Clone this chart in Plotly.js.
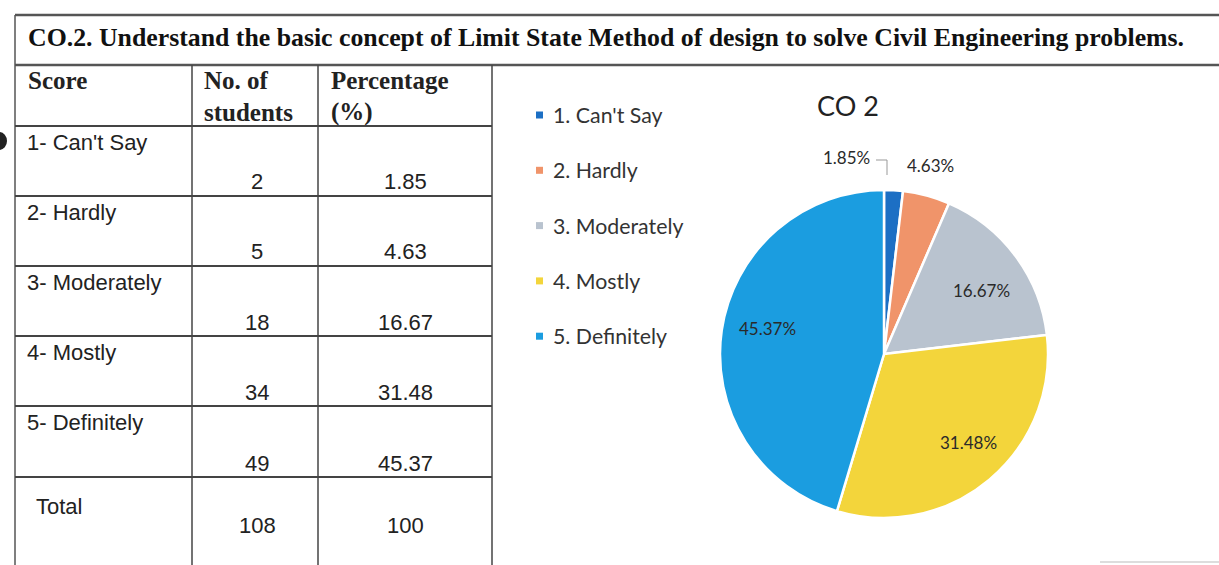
<!DOCTYPE html>
<html>
<head>
<meta charset="utf-8">
<script src="https://cdn.plot.ly/plotly-3.0.1.min.js"></script>
<style>html,body{margin:0;padding:0;background:#fff;}#chart{width:1219px;height:565px;}</style>
</head>
<body>
<div id="chart"></div>
<script>
// ---- data ----
const heading = "CO.2. Understand the basic concept of Limit State Method of design to solve Civil Engineering problems.";
const chartTitle = "CO 2";
const headerCols = [["Score"], ["No. of", "students"], ["Percentage", "(%)"]];
const scoreLabels = ["1- Can't Say", "2- Hardly", "3- Moderately", "4- Mostly", "5- Definitely"];
const legendLabels = ["1. Can't Say", "2. Hardly", "3. Moderately", "4. Mostly", "5. Definitely"];
const students = [2, 5, 18, 34, 49];
const percents = [1.85, 4.63, 16.67, 31.48, 45.37];
const totalLabel = "Total";
const totalStudents = 108;
const totalPercent = 100;
const sliceColors = ["#1c6fc4", "#f0946a", "#b9c3cf", "#f3d53b", "#1b9de0"];

// ---- geometry helpers (pixel -> paper) ----
const W = 1219, H = 565;
const px = x => x / W;
const py = y => 1 - y / H;

const shapes = [];
const annotations = [];
function hline(x0, x1, y, w, c) {
  shapes.push({type: 'line', xref: 'paper', yref: 'paper', x0: px(x0), x1: px(x1), y0: py(y), y1: py(y),
    line: {color: c || '#444', width: w || 1.5}});
}
function vline(x, y0, y1, w, c) {
  shapes.push({type: 'line', xref: 'paper', yref: 'paper', x0: px(x), x1: px(x), y0: py(y0), y1: py(y1),
    line: {color: c || '#444', width: w || 1.5}});
}
function txt(text, x, y, opts) {
  annotations.push(Object.assign({xref: 'paper', yref: 'paper', x: px(x), y: py(y), text: text,
    showarrow: false, xanchor: 'left', yanchor: 'middle', align: 'left',
    font: {family: 'Liberation Sans, Arial', size: 22, color: '#222'}}, opts || {}));
}

// outer frame
hline(15, 1219, 15, 2.5, '#555');
hline(15, 1219, 65, 2.5, '#555');
vline(15, 15, 565, 1.5, '#555');
// table grid
const colX = [15, 192, 318, 492];
const rowY = [65, 126, 196, 266, 336, 406, 477, 565];
for (let i = 1; i < colX.length; i++) vline(colX[i], 65, 565, 1.5, '#444');
for (let j = 1; j < rowY.length - 1; j++) hline(15, 492, rowY[j], 2, '#444');
hline(1100, 1219, 562, 1, '#bbb');
// binder hole mark
shapes.push({type: 'circle', xref: 'paper', yref: 'paper', x0: px(-8), x1: px(7), y0: py(132), y1: py(150),
  fillcolor: '#222', line: {width: 0}});

// heading
txt('<b>' + heading + '</b>', 26, 37, {font: {family: 'Liberation Serif, Times New Roman', size: 25.8, color: '#111'}});

// header row
const serifB = {family: 'Liberation Serif, Times New Roman', size: 25, color: '#222'};
const headX = [26, 202, 329];
for (let c = 0; c < headerCols.length; c++) {
  headerCols[c].forEach((line, k) => txt('<b>' + line + '</b>', headX[c], 80 + k * 32, {font: serifB}));
}

// data rows
const c2 = (colX[1] + colX[2]) / 2 + 2, c3 = (colX[2] + colX[3]) / 2;
for (let i = 0; i < scoreLabels.length; i++) {
  const top = rowY[i + 1], bot = rowY[i + 2];
  txt(scoreLabels[i], 25, top + 16);
  txt(String(students[i]), c2, bot - 14, {xanchor: 'center'});
  txt(percents[i].toFixed(2), c3, bot - 14, {xanchor: 'center'});
}
txt(totalLabel, 34, 506);
txt(String(totalStudents), c2, 525, {xanchor: 'center'});
txt(String(totalPercent), c3, 525, {xanchor: 'center'});

// custom legend
const legY0 = 115, legGap = 55.3;
const legFont = {family: 'Lato, Open Sans, sans-serif', size: 21.3, color: '#333'};
for (let i = 0; i < legendLabels.length; i++) {
  const y = legY0 + i * legGap;
  shapes.push({type: 'rect', xref: 'paper', yref: 'paper', x0: px(536), x1: px(543), y0: py(y + 3.5), y1: py(y - 3.5),
    fillcolor: sliceColors[i], line: {width: 0}});
  txt(legendLabels[i], 551, y, {font: legFont});
}

// slice data labels (positions are layout only; text from data)
const labelPos = [[846, 157], [930, 166], [982, 290], [968, 442], [767, 328]];
const lblFont = {family: 'Lato, Open Sans, sans-serif', size: 17, color: '#2a2a2a'};
percents.forEach((p, i) => txt(p.toFixed(2) + '%', labelPos[i][0], labelPos[i][1], {xanchor: 'center', font: lblFont}));
// leader for the smallest slice
shapes.push({type: 'path', xref: 'paper', yref: 'paper',
  path: `M ${px(876)} ${py(160)} L ${px(887)} ${py(160)} L ${px(887)} ${py(175)}`,
  line: {color: '#999', width: 1}});

const trace = {
  type: 'pie',
  values: students,
  labels: legendLabels,
  textinfo: 'none',
  sort: false,
  direction: 'clockwise',
  rotation: 0,
  marker: {colors: sliceColors, line: {color: '#ffffff', width: 2.5}},
  domain: {x: [px(720), px(1048)], y: [py(518), py(190)]},
  showlegend: false,
  hoverinfo: 'none'
};

const layout = {
  width: W, height: H,
  margin: {l: 0, r: 0, t: 0, b: 0},
  paper_bgcolor: '#ffffff',
  plot_bgcolor: '#ffffff',
  showlegend: false,
  title: {text: chartTitle, x: px(848), xanchor: 'center', y: py(107), yanchor: 'middle',
    font: {family: 'Lato, Open Sans, sans-serif', size: 27, color: '#222'}},
  shapes: shapes,
  annotations: annotations
};

Plotly.newPlot('chart', [trace], layout, {displayModeBar: false, staticPlot: true});
</script>
</body>
</html>
